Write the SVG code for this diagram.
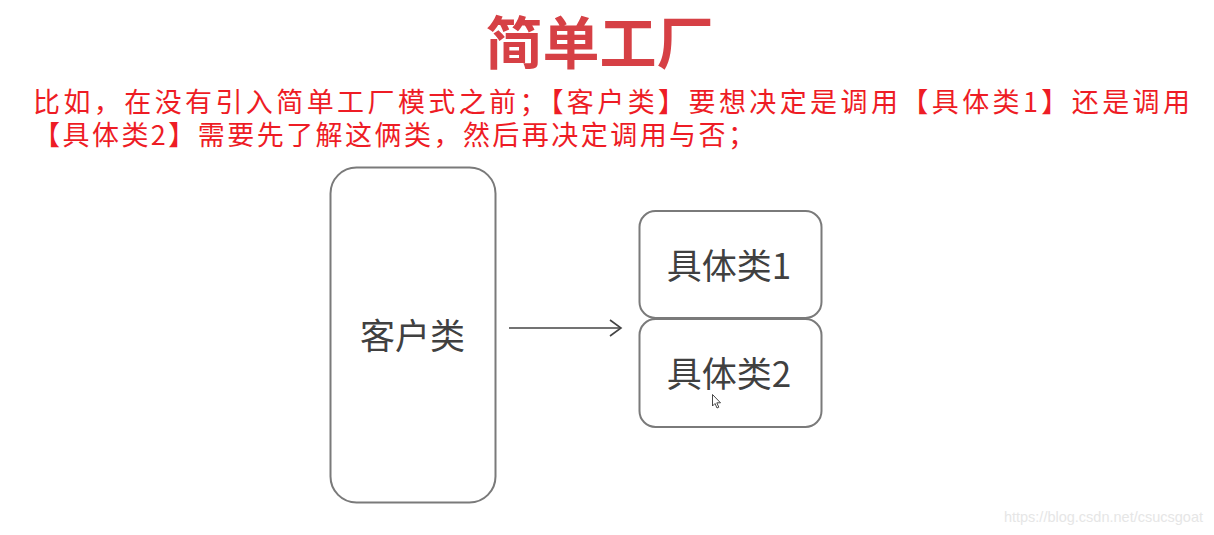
<svg xmlns="http://www.w3.org/2000/svg" width="1214" height="535" viewBox="0 0 1214 535">
<style>
.title{font-family:"Noto Sans CJK SC","Noto Sans",sans-serif;font-weight:bold;font-size:57px;fill:#d64045}
.desc{font-family:"Noto Sans CJK SC","Noto Sans",sans-serif;font-size:27px;fill:#ee1c25}
.box{fill:#ffffff;stroke:#7a7a7a;stroke-width:2}
.lbl{font-family:"Noto Sans CJK SC","Noto Sans",sans-serif;font-size:35px;fill:#404040;text-anchor:middle}
.edge{fill:none;stroke:#444444;stroke-width:1.6}
.wm{font-family:"Liberation Sans",Arial,sans-serif;font-size:14.5px;fill:#e6e6e6;text-anchor:end}
</style>
<defs>
<marker id="arrow" markerWidth="14" markerHeight="18" refX="12" refY="9" orient="auto" markerUnits="userSpaceOnUse">
<path d="M1,1 L12,9 L1,17" fill="none" stroke="#444444" stroke-width="1.6"/>
</marker>
</defs>
<rect width="1214" height="535" fill="#ffffff"/>
<text class="title" x="599.5" y="64" text-anchor="middle">简单工厂</text>
<text class="desc" x="33" y="112" textLength="1157" lengthAdjust="spacing">比如，在没有引入简单工厂模式之前；【客户类】要想决定是调用【具体类1】还是调用</text>
<text class="desc" x="33" y="145" textLength="722" lengthAdjust="spacing">【具体类2】需要先了解这俩类，然后再决定调用与否；</text>
<g id="client">
<rect class="box" x="330.5" y="167.5" width="165" height="335" rx="26"/>
<text class="lbl" x="412.5" y="349">客户类</text>
</g>
<g id="concrete1">
<rect class="box" x="639.5" y="211" width="182" height="107" rx="16"/>
<text class="lbl" x="729" y="279">具体类1</text>
</g>
<g id="concrete2">
<rect class="box" x="639.5" y="319" width="182" height="108" rx="16"/>
<text class="lbl" x="729" y="387">具体类2</text>
</g>
<g id="connectors">
<line class="edge" x1="509" y1="328" x2="621" y2="328" marker-end="url(#arrow)"/>
</g>
<path d="M712.5,394.5 L712.5,406 L715,403.5 L717,408 L718.8,407.2 L716.8,402.8 L720.5,402.8 Z" fill="#ffffff" stroke="#333333" stroke-width="0.9"/>
<text class="wm" x="1203" y="522">https://blog.csdn.net/csucsgoat</text>
</svg>
